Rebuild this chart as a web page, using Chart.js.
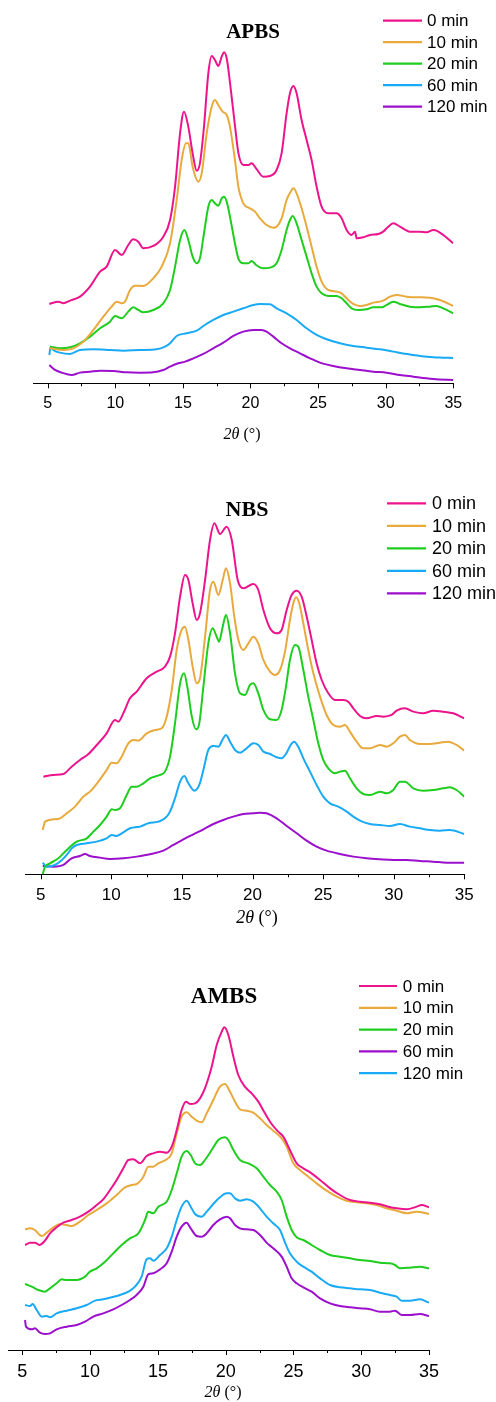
<!DOCTYPE html>
<html>
<head>
<meta charset="utf-8">
<script src="https://cdn.jsdelivr.net/npm/chart.js@4.4.1/dist/chart.umd.min.js"></script>
<style>
  html, body { margin: 0; padding: 0; background: #fff; }
  body { width: 496px; height: 1402px; position: relative; overflow: hidden; }
  canvas { position: absolute; left: 0; }
</style>
</head>
<body>
<canvas id="apbs" width="496" height="450" style="top:0px"></canvas>
<canvas id="nbs" width="496" height="470" style="top:470px"></canvas>
<canvas id="ambs" width="496" height="452" style="top:950px"></canvas>
<script>
// ---- axis ticks and legend labels ----
const tickValues = [5, 10, 15, 20, 25, 30, 35];
const minorTickValues = [7.5, 12.5, 17.5, 22.5, 27.5, 32.5];
const timeLabels = ['0 min', '10 min', '20 min', '60 min', '120 min'];

// ---- APBS diffractograms: 2θ (°) and intensity (a.u.) ----
const apbsX0 = [5.12,5.79,6.16,6.65,7.39,8.13,8.87,9.36,9.98,10.47,10.96,11.33,11.70,12.07,12.81,13.55,14.05,14.42,14.79,15.08,15.40,15.72,16.02,16.26,16.56,16.88,17.13,17.37,17.62,17.87,18.04,18.24,18.49,18.86,19.11,19.47,19.84,20.09,20.41,20.95,21.44,21.93,22.30,22.67,22.92,23.17,23.41,23.78,24.15,24.52,24.89,25.26,25.75,26.37,26.74,27.11,27.48,27.73,27.85,28.34,28.84,29.45,29.82,30.19,30.56,31.05,31.79,32.53,33.03,33.52,33.76,34.26,35];
const apbsY0 = [238,245,240,248,260,290,335,350,400,385,415,432,425,405,412,440,490,590,750,815,770,690,638,660,770,930,982,970,952,980,993,975,900,770,690,655,655,660,645,620,622,640,690,810,870,892,870,790,730,670,590,530,510,510,495,460,445,455,435,438,445,448,455,470,480,470,455,455,453,460,458,445,420];
const apbsX10 = [5.17,6.16,6.90,7.64,8.38,9.12,9.73,10.10,10.47,10.72,11.09,11.46,12.07,12.81,13.43,14.05,14.54,14.91,15.23,15.40,15.72,16.14,16.39,16.76,17.13,17.37,17.62,17.94,18.24,18.48,18.85,19.10,19.47,19.96,20.33,20.70,21.19,21.69,21.93,22.30,22.67,22.97,23.17,23.41,23.78,24.15,24.52,24.89,25.26,25.75,26.37,26.74,27.11,27.60,28.10,28.59,29.08,29.82,30.31,30.81,31.55,32.29,33.27,34.01,35];
const apbsY10 = [105,100,105,125,160,200,230,245,240,245,280,293,292,315,350,420,550,670,720,720,650,605,630,750,830,850,835,815,805,770,670,590,540,525,515,495,475,467,470,495,550,575,585,570,525,470,410,350,305,280,275,270,255,238,232,235,242,248,260,265,260,258,257,250,232];
const apbsX20 = [5.17,5.91,6.65,7.39,8.13,8.87,9.61,9.98,10.47,10.96,11.33,11.70,12.07,12.81,13.55,14.05,14.42,14.79,15.11,15.40,15.72,16.02,16.26,16.56,16.88,17.13,17.37,17.62,17.87,18.04,18.24,18.48,18.85,19.10,19.47,19.84,20.09,20.41,20.95,21.44,21.93,22.30,22.67,22.92,23.12,23.41,23.78,24.15,24.52,24.89,25.26,25.75,26.37,26.74,27.11,27.48,27.97,28.59,29.08,29.70,30.07,30.56,31.05,31.79,32.53,33.27,33.76,34.26,35];
const apbsY20 = [110,105,108,120,140,165,185,202,195,215,228,220,213,220,240,280,350,430,460,430,380,360,375,450,530,550,540,533,555,560,545,500,420,375,360,360,367,355,345,347,360,400,460,490,502,480,430,380,330,290,270,262,262,255,240,225,220,222,228,228,235,245,238,230,228,230,232,225,210];
const apbsX60 = [5.12,5.22,5.42,5.91,6.65,7.39,8.38,9.61,10.60,11.83,13.06,13.68,14.05,14.54,15.28,16.02,16.51,17.25,17.99,18.73,19.47,20.21,20.70,21.44,21.93,22.67,23.41,24.15,24.89,25.63,26.62,27.60,28.59,29.57,30.56,31.55,32.53,33.52,34.26,35];
const apbsY60 = [85,110,100,92,88,100,102,100,98,100,102,110,120,142,150,158,172,190,205,215,225,235,238,237,225,210,190,165,145,132,120,112,107,102,95,88,82,78,77,76];
const apbsX120 = [5.12,5.54,6.04,6.77,7.39,8.13,8.87,9.86,10.84,11.83,12.81,13.55,14.05,14.66,15.16,15.77,16.51,17.25,17.99,18.73,19.47,20.21,20.82,21.19,21.69,22.30,22.92,23.66,24.40,25.14,26.12,27.11,28.10,29.08,30.07,31.05,32.04,33.03,33.76,35];
const apbsY120 = [55,40,32,25,32,35,38,37,33,32,33,40,50,60,65,75,88,105,122,142,155,160,160,155,140,120,105,90,75,62,52,45,40,35,32,25,20,15,12,10];

// ---- NBS diffractograms ----
const nbsX0 = [5.19,5.90,6.60,7.19,7.78,8.38,8.97,9.67,10.26,10.50,10.85,11.32,11.80,12.50,13.21,13.80,14.16,14.51,14.87,15.22,15.46,15.76,16.05,16.28,16.64,16.99,17.30,17.70,18.17,18.53,18.95,19.35,20.06,20.41,20.77,21.24,21.71,22.06,22.42,22.77,23.13,23.48,23.84,24.19,24.54,24.90,25.37,25.84,26.43,26.78,27.14,27.61,28.08,28.79,29.26,29.85,30.21,30.80,31.39,32.09,32.80,33.51,34.22,35];
const nbsY0 = [293,298,301,323,343,361,388,423,463,458,483,528,548,588,608,623,653,723,833,898,883,813,763,783,883,1003,1053,1021,1043,1003,883,858,871,853,793,738,723,733,793,838,851,833,773,703,633,583,543,523,523,518,498,475,468,475,473,478,491,498,488,483,491,488,483,468];
const nbsX10 = [5.14,5.31,5.90,6.37,6.84,7.43,8.02,8.49,9.08,9.67,10.02,10.38,10.73,11.21,11.56,11.92,12.51,13.10,13.57,13.92,14.28,14.63,14.98,15.22,15.46,15.76,16.05,16.28,16.64,16.99,17.23,17.58,17.89,18.12,18.41,18.71,19.00,19.35,19.71,20.06,20.41,20.77,21.24,21.59,21.95,22.30,22.65,22.89,23.08,23.31,23.60,23.95,24.31,24.78,25.25,25.72,26.19,26.55,26.90,27.37,27.85,28.32,29.03,29.50,29.97,30.44,30.80,31.15,31.86,32.57,33.27,33.86,34.45,35];
const nbsY10 = [133,158,165,168,183,203,233,248,278,313,335,333,353,393,403,401,423,433,438,473,553,673,733,743,703,623,573,588,713,853,878,838,883,918,873,773,703,673,693,713,693,643,608,598,613,668,763,813,831,813,753,673,603,533,478,448,443,448,428,398,378,378,388,383,393,413,418,403,391,391,395,398,388,371];
const nbsX20 = [5.14,5.31,5.66,6.25,6.84,7.55,8.26,8.73,9.20,9.67,10.03,10.26,10.62,11.09,11.44,11.80,12.27,12.74,13.45,13.80,14.16,14.51,14.87,15.15,15.38,15.70,16.00,16.23,16.52,16.87,17.18,17.46,17.63,17.89,18.12,18.41,18.76,19.12,19.47,19.82,20.06,20.41,20.77,21.24,21.71,22.06,22.37,22.65,23.01,23.24,23.60,23.95,24.31,24.66,25.01,25.37,25.84,26.19,26.55,26.90,27.37,27.85,28.32,29.03,29.50,29.97,30.44,30.80,31.39,32.09,32.80,33.51,33.98,34.45,35];
const nbsY20 = [0,23,33,48,73,98,108,128,148,173,195,193,198,238,263,263,273,288,298,308,353,453,573,603,563,473,435,453,563,693,738,713,698,743,778,723,603,543,538,568,573,543,493,465,463,493,563,643,688,683,613,533,463,393,343,318,303,308,311,288,258,241,238,248,243,253,278,278,258,251,253,258,261,253,233];
const nbsX60 = [5.14,5.42,6.00,6.50,6.84,7.20,7.55,8.26,8.96,9.67,10.03,10.38,10.73,11.32,12.03,12.62,13.33,13.80,14.16,14.51,14.87,15.17,15.46,15.88,16.23,16.52,16.87,17.23,17.58,17.89,18.12,18.41,18.76,19.12,19.58,20.06,20.41,20.77,21.24,21.71,22.06,22.42,22.70,22.94,23.24,23.60,24.07,24.54,25.01,25.49,26.08,26.67,27.14,27.61,28.32,29.03,29.73,30.44,31.15,31.86,32.57,33.27,33.98,35];
const nbsY60 = [35,23,28,43,58,78,88,93,98,108,118,115,123,138,143,153,158,168,188,228,278,295,273,251,268,313,373,385,383,405,418,398,373,365,378,393,388,368,361,351,348,365,388,398,383,348,308,268,233,213,203,188,173,161,151,148,145,151,143,138,133,131,133,121];
const nbsX120 = [5.14,5.90,6.60,7.19,7.78,8.14,8.49,9.20,9.90,10.85,11.80,12.74,13.69,14.39,15.10,15.81,16.52,17.23,17.93,18.64,19.35,20.06,20.53,21.00,21.71,22.42,23.13,23.83,24.54,25.25,26.19,27.14,28.08,29.03,29.97,30.91,31.86,32.80,33.75,35];
const nbsY120 = [25,23,28,48,55,61,55,50,46,48,53,60,71,88,105,120,135,151,163,173,181,183,185,183,168,145,123,101,83,71,61,53,48,45,43,43,40,38,35,35];

// ---- AMBS diffractograms ----
const ambsX0 = [5.20,5.57,5.93,6.25,6.67,7.04,7.53,8.02,8.64,9.25,9.87,10.48,10.97,11.47,11.96,12.45,12.82,13.19,13.68,14.17,14.66,15.16,15.65,16.02,16.39,16.75,17.07,17.37,17.74,18.11,18.47,18.97,19.34,19.71,19.90,20.20,20.57,20.93,21.42,21.92,22.41,22.90,23.39,23.88,24.25,24.74,25.24,25.73,26.34,26.96,27.70,28.43,29.17,29.91,30.65,31.38,32.00,32.61,33.35,34.09,34.46,35];
const ambsY0 = [315,322,322,315,328,350,368,382,390,400,415,435,452,480,510,545,570,572,560,582,590,595,592,610,660,720,745,738,740,755,785,850,915,955,968,945,880,825,790,770,745,710,678,655,640,600,560,545,530,510,485,465,450,445,442,437,430,425,422,430,435,428];
const ambsX10 = [5.20,5.57,5.93,6.43,6.80,7.29,7.78,8.27,8.64,9.25,9.87,10.48,11.22,11.96,12.57,13.06,13.43,13.93,14.29,14.66,15.03,15.65,16.02,16.39,16.75,17.12,17.49,17.86,18.23,18.60,19.09,19.58,19.95,20.32,20.69,21.06,21.55,22.04,22.53,23.02,23.51,24.13,24.50,24.99,25.48,26.10,26.71,27.45,28.19,28.92,29.66,30.40,31.14,31.88,32.61,33.35,34.09,35];
const ambsY10 = [362,365,360,342,352,368,378,375,372,385,405,420,440,465,488,495,498,520,550,550,560,572,590,650,700,713,700,688,683,710,750,790,798,775,745,722,718,712,695,675,658,635,610,560,540,520,500,478,460,448,443,440,435,425,418,410,415,408];
const ambsX20 = [5.20,5.69,6.18,6.67,7.04,7.53,7.90,8.27,9.01,9.62,9.99,10.48,11.10,11.71,12.33,12.94,13.56,14.05,14.29,14.66,15.03,15.65,16.02,16.39,16.75,17.12,17.42,17.74,18.11,18.47,18.97,19.46,19.95,20.20,20.57,21.06,21.67,22.29,22.78,23.27,23.76,24.13,24.50,24.87,25.24,25.73,26.34,26.96,27.70,28.43,29.17,29.91,30.65,31.38,32.12,32.49,32.86,33.60,34.33,35];
const ambsY20 = [198,190,180,175,185,200,212,210,210,220,235,245,265,290,315,335,350,390,415,410,430,445,480,530,580,597,585,560,555,570,600,630,638,630,600,570,560,545,520,495,475,450,400,360,338,330,315,300,285,280,275,270,267,262,260,255,245,247,250,245];
const ambsX60 = [5.20,5.27,5.69,5.93,6.30,6.67,7.04,7.53,8.27,9.01,9.62,10.24,10.97,11.71,12.33,12.94,13.43,13.93,14.29,14.66,15.16,15.65,16.02,16.39,16.75,17.12,17.42,17.86,18.23,18.60,19.09,19.58,20.07,20.32,20.69,21.06,21.55,22.04,22.53,23.02,23.51,24.13,24.50,24.87,25.24,25.73,26.34,26.96,27.70,28.43,29.17,29.91,30.65,31.38,32.12,32.49,32.98,33.60,34.33,35];
const ambsY60 = [90,70,62,65,52,48,50,62,70,75,85,100,110,122,135,150,165,190,227,230,242,260,295,340,370,382,365,342,340,350,375,392,400,395,375,365,362,360,345,322,305,280,250,215,200,188,175,155,140,132,128,125,122,115,115,118,105,105,108,102];
const ambsX120 = [5.20,5.57,5.76,6.06,6.43,6.80,7.04,7.53,8.27,9.01,9.75,10.36,10.97,11.59,12.20,12.82,13.31,13.80,14.17,14.42,14.66,15.16,15.65,16.02,16.39,16.75,17.12,17.42,17.74,18.23,18.60,19.09,19.58,20.07,20.32,20.69,21.06,21.55,22.04,22.53,23.02,23.51,24.01,24.38,24.74,25.24,25.73,26.34,26.96,27.70,28.43,29.17,29.91,30.65,31.38,32.12,32.61,32.98,33.60,34.33,35];
const ambsY120 = [135,132,138,120,100,102,98,110,118,125,135,148,152,158,165,175,190,220,272,275,268,285,305,340,390,430,448,430,408,400,415,438,458,470,470,455,448,452,445,425,400,380,360,322,290,265,250,235,215,195,188,185,182,180,172,165,160,148,148,152,142];

// ---- colours ----
const PINK = '#EC148C', ORANGE = '#E8AA3C', GREEN = '#1ECD1E', BLUE = '#19AAF5', PURPLE = '#9B0FCD';

const SANS = '"Liberation Sans", Arial, Helvetica, sans-serif';
const SERIF = '"Liberation Serif", "Times New Roman", Times, serif';

function zip(xs, ys) {
  const n = Math.min(xs.length, ys.length);
  const out = [];
  for (let i = 0; i < n; i++) out.push({ x: xs[i], y: ys[i] });
  return out;
}

// title, legend, tick marks and the axis caption
const decorPlugin = {
  id: 'decor',
  afterDraw(chart, args, o) {
    const ctx = chart.ctx;
    const xs = chart.scales.x;
    const y0 = xs.top;
    ctx.save();
    ctx.strokeStyle = '#000';
    ctx.lineWidth = 1;
    const mark = (v, len) => {
      const px = Math.round(xs.getPixelForValue(v)) + 0.5;
      ctx.beginPath();
      ctx.moveTo(px, y0);
      ctx.lineTo(px, y0 + len);
      ctx.stroke();
    };
    tickValues.forEach(v => mark(v, 5));
    minorTickValues.forEach(v => mark(v, 3));

    // panel title
    ctx.fillStyle = '#000';
    ctx.font = 'bold ' + o.titleSize + 'px ' + SERIF;
    ctx.textAlign = 'center';
    ctx.textBaseline = 'middle';
    ctx.fillText(o.title, o.titleX, o.titleY);

    // axis caption: italic 2θ followed by upright (°)
    const a = '2θ', b = ' (°)';
    const fi = 'italic ' + o.capSize + 'px ' + SERIF;
    const fn = o.capSize + 'px ' + SERIF;
    ctx.font = fi; const wa = ctx.measureText(a).width;
    ctx.font = fn; const wb = ctx.measureText(b).width;
    let cx = o.capX - (wa + wb) / 2;
    ctx.textAlign = 'left';
    ctx.font = fi; ctx.fillText(a, cx, o.capY);
    ctx.font = fn; ctx.fillText(b, cx + wa, o.capY);

    // legend
    ctx.font = o.legSize + 'px ' + SANS;
    ctx.lineWidth = 2.2;
    chart.data.datasets.forEach((ds, i) => {
      const y = o.legY + i * o.legDy;
      ctx.strokeStyle = ds.borderColor;
      ctx.beginPath();
      ctx.moveTo(o.legX0, y);
      ctx.lineTo(o.legX1, y);
      ctx.stroke();
      ctx.fillStyle = '#000';
      ctx.fillText(ds.label, o.legTx, y + 1);
    });
    ctx.restore();
  }
};

function makePanel(cfg) {
  const datasets = cfg.series.map((s, i) => ({
    label: cfg.labels[i],
    data: zip(s[0], s[1]),
    borderColor: cfg.colors[i],
    borderWidth: 2,
    pointRadius: 0,
    fill: false,
    cubicInterpolationMode: 'monotone',
    tension: 0.4
  }));
  return new Chart(document.getElementById(cfg.id), {
    type: 'line',
    data: { datasets },
    plugins: [decorPlugin],
    options: {
      responsive: false,
      animation: false,
      devicePixelRatio: 1,
      layout: { padding: { left: cfg.padL, right: cfg.padR, top: 0, bottom: 0 } },
      plugins: {
        legend: { display: false },
        title: { display: false },
        tooltip: { enabled: false },
        decor: cfg.decor
      },
      scales: {
        x: {
          type: 'linear',
          min: 3.95,
          max: 35,
          afterBuildTicks: s => { s.ticks = tickValues.map(v => ({ value: v })); },
          afterFit: s => { s.height = cfg.axisH; },
          grid: { display: false, drawTicks: false },
          border: { display: true, color: '#000', width: 1 },
          ticks: {
            autoSkip: false,
            maxRotation: 0,
            padding: cfg.tickPad,
            color: '#000',
            font: { family: SANS, size: cfg.tickSize },
            callback: v => String(v)
          }
        },
        y: { type: 'linear', display: false, min: 0, max: cfg.yMax }
      }
    }
  });
}

makePanel({
  id: 'apbs',
  labels: timeLabels,
  colors: [PINK, ORANGE, GREEN, BLUE, PURPLE],
  series: [[apbsX0, apbsY0], [apbsX10, apbsY10], [apbsX20, apbsY20], [apbsX60, apbsY60], [apbsX120, apbsY120]],
  yMax: 1150, padL: 33.5, padR: 42.7, axisH: 66.7, tickPad: 11, tickSize: 16,
  decor: { title: 'APBS', titleSize: 21, titleX: 253, titleY: 33,
           capX: 242, capY: 435, capSize: 16,
           legX0: 383, legX1: 422, legTx: 427, legY: 20.7, legDy: 21.5, legSize: 17 }
});

makePanel({
  id: 'nbs',
  labels: timeLabels,
  colors: [PINK, ORANGE, GREEN, BLUE, PURPLE],
  series: [[nbsX0, nbsY0], [nbsX10, nbsY10], [nbsX20, nbsY20], [nbsX60, nbsY60], [nbsX120, nbsY120]],
  yMax: 1213, padL: 25.9, padR: 31.7, axisH: 65.7, tickPad: 11, tickSize: 17,
  decor: { title: 'NBS', titleSize: 22, titleX: 247, titleY: 40,
           capX: 257, capY: 448, capSize: 18,
           legX0: 387, legX1: 426, legTx: 432, legY: 33.3, legDy: 22.5, legSize: 18 }
});

makePanel({
  id: 'ambs',
  labels: timeLabels,
  colors: [PINK, ORANGE, GREEN, PURPLE, BLUE],
  series: [[ambsX0, ambsY0], [ambsX10, ambsY10], [ambsX20, ambsY20], [ambsX60, ambsY60], [ambsX120, ambsY120]],
  yMax: 1200, padL: 8.1, padR: 67, axisH: 52, tickPad: 11, tickSize: 18,
  decor: { title: 'AMBS', titleSize: 23, titleX: 224, titleY: 46.7,
           capX: 223, capY: 443, capSize: 16,
           legX0: 359, legX1: 397, legTx: 402.7, legY: 36, legDy: 21.8, legSize: 17 }
});
</script>
</body>
</html>
